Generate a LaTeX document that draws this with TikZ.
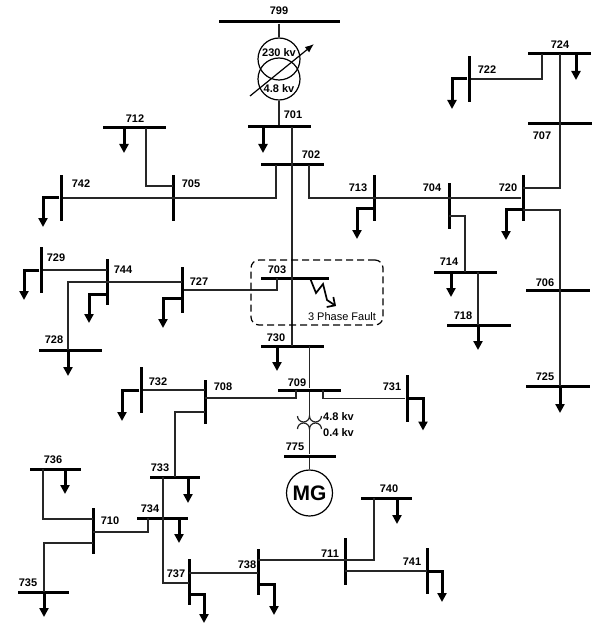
\documentclass[tikz,border=0pt]{standalone}
\usepackage{fontspec}
\setmainfont{Liberation Sans}
\usetikzlibrary{arrows.meta}

\tikzset{
  hbus/.style={fill=black, inner sep=0pt, minimum height=3pt, minimum width=#1},
  vbus/.style={fill=black, inner sep=0pt, minimum width=3pt, minimum height=#1},
  busno/.style={font=\bfseries\fontsize{11}{13}\selectfont, inner sep=0pt},
  wire/.style={line width=1.2pt, black!85},
  load/.style={line width=3pt, -{Triangle[width=9pt,length=9pt]}},
}

\begin{document}
\begin{tikzpicture}[x=1pt,y=-1pt]
\useasboundingbox (0,0) rectangle (597,628);

\node[hbus=121pt] (b799) at (279,22) {}; \node[hbus=63pt] (b701) at (279,127) {}; \node[hbus=63pt] (b702) at (292.5,165) {};
\node[hbus=63pt] (b712) at (134.5,128) {}; \node[hbus=63pt] (b724) at (559.5,54) {}; \node[hbus=64pt] (b707) at (560,124) {};
\node[hbus=64pt] (b706) at (558,290) {}; \node[hbus=64pt] (b725) at (558,386) {}; \node[hbus=63pt] (b714) at (465.5,272) {};
\node[hbus=64pt] (b718) at (479,325) {}; \node[hbus=68pt] (b703) at (295,278) {}; \node[hbus=63pt] (b730) at (292.5,346) {};
\node[hbus=63pt] (b709) at (309.5,390) {}; \node[hbus=52pt] (b775) at (309.5,456) {}; \node[hbus=63pt] (b728) at (70.5,350) {};
\node[hbus=50pt] (b733) at (175,477) {}; \node[hbus=51pt] (b734) at (162.5,518) {}; \node[hbus=51pt] (b736) at (55.5,469) {};
\node[hbus=51pt] (b735) at (43.5,592) {}; \node[hbus=51pt] (b740) at (386.5,498) {};

\node[vbus=46pt] (b713) at (374,198) {}; \node[vbus=46pt] (b704) at (449,206) {}; \node[vbus=46pt] (b720) at (523,198) {};
\node[vbus=46pt] (b722) at (469,79) {}; \node[vbus=46pt] (b705) at (173,198) {}; \node[vbus=46pt] (b742) at (61,198) {};
\node[vbus=46pt] (b729) at (41,270) {}; \node[vbus=46pt] (b744) at (107,282) {}; \node[vbus=46pt] (b727) at (182,290) {};
\node[vbus=47pt] (b731) at (407,398.5) {}; \node[vbus=46pt] (b732) at (141,390) {}; \node[vbus=44pt] (b708) at (205,402) {};
\node[vbus=46pt] (b710) at (93,531) {}; \node[vbus=46pt] (b737) at (189,582) {}; \node[vbus=46pt] (b738) at (258,572) {};
\node[vbus=47pt] (b711) at (345,561.5) {}; \node[vbus=46pt] (b741) at (427,571) {};

\node[busno] (n799) at (279,11) {799}; \node[busno] (n701) at (293,115) {701}; \node[busno] (n702) at (311,155) {702};
\node[busno] (n712) at (135,119) {712}; \node[busno] (n742) at (81,184) {742}; \node[busno] (n705) at (191,184) {705};
\node[busno] (n713) at (358,188) {713}; \node[busno] (n704) at (432,188) {704}; \node[busno] (n720) at (508,188) {720};
\node[busno] (n722) at (487,70) {722}; \node[busno] (n724) at (560,45) {724}; \node[busno] (n707) at (542,136) {707};
\node[busno] (n706) at (545,283) {706}; \node[busno] (n725) at (545,377) {725}; \node[busno] (n714) at (449,262) {714};
\node[busno] (n718) at (463,316) {718}; \node[busno] (n729) at (56,258) {729}; \node[busno] (n744) at (123,270) {744};
\node[busno] (n727) at (199,282) {727}; \node[busno] (n703) at (277,270) {703}; \node[busno] (n728) at (54,340) {728};
\node[busno] (n730) at (276,338) {730}; \node[busno] (n709) at (297,383) {709}; \node[busno] (n731) at (392,387) {731};
\node[busno] (n732) at (158,382) {732}; \node[busno] (n708) at (223,387) {708}; \node[busno] (n775) at (295,447) {775};
\node[busno] (n733) at (160,468) {733}; \node[busno] (n734) at (150,509) {734}; \node[busno] (n736) at (53,460) {736};
\node[busno] (n710) at (110,521) {710}; \node[busno] (n735) at (28,583) {735}; \node[busno] (n737) at (176,574) {737};
\node[busno] (n738) at (247,565) {738}; \node[busno] (n711) at (330,554) {711}; \node[busno] (n740) at (389,489) {740};
\node[busno] (n741) at (412,562) {741};

\node[draw, line width=1.2pt, circle, minimum size=42pt, inner sep=0pt] (tu) at (279,59) {};
\node[draw, line width=1.2pt, circle, minimum size=42pt, inner sep=0pt] (tl) at (279,79) {};
\node[busno] (thv) at (279,53) {230 kv}; \node[busno] (tlv) at (279,89) {4.8 kv};
\draw[line width=1.2pt, -{Latex[length=9pt,width=7pt]}] (250,96) -- (314,44);
\draw[wire] (b799) -- (tu); \draw[wire] (tl) -- (b701);

\draw[wire] (292,0 |- b701) -- (292,0 |- b730);
\draw[wire] (276,0 |- b702) |- (b742);
\draw[wire] (309,0 |- b702) |- (b720);
\draw[wire] (146,0 |- b712) |- (b705 |- 0,186);
\draw[wire] (b704 |- 0,216) -| (465,0 |- b714);
\draw[wire] (478,0 |- b714) -- (478,0 |- b718);
\draw[wire] (560,0 |- b724) |- (b720 |- 0,188);
\draw[wire] (542,0 |- b724) |- (b722);
\draw[wire] (b720 |- 0,210) -| (560,0 |- b725);
\draw[wire] (b729) -- (b744 |- b729);
\draw[wire] (b727 |- 0,282) -| (68,0 |- b728);
\draw[wire] (b727) -| (277,0 |- b703);
\draw[wire] (309.5,0 |- b730) -- (b709);
\draw[wire] (296,0 |- b709) |- (b708 |- 0,398);
\draw[wire] (323,0 |- b709) |- (b731);
\draw[wire] (b732) -- (b708 |- b732);
\draw[wire] (b708 |- 0,412) -| (175,0 |- b733);
\draw[wire] (163,0 |- b733) |- (b737 |- 0,583);
\draw[wire] (148,0 |- b734) |- (b710 |- 0,532);
\draw[wire] (43,0 |- b736) |- (b710 |- 0,519);
\draw[wire] (b710 |- 0,543) -| (44,0 |- b735);
\draw[wire] (b737 |- 0,573) -- (b738 |- 0,573);
\draw[wire] (b738 |- 0,560) -| (374,0 |- b740);
\draw[wire] (b711 |- 0,571) -- (b741 |- 0,571);

\coordinate (c1) at (309.5,416); \coordinate (c2) at (309.5,429);
\draw[wire] (b709) -- (c1); \draw[wire] (c2) -- (b775);
\draw[wire] (297.5,416) arc (180:360:6pt) arc (180:360:6pt);
\draw[wire] (297.5,429) arc (180:0:6pt) arc (180:0:6pt);
\node[busno, anchor=west] (kv1) at (323,417) {4.8 kv}; \node[busno, anchor=west] (kv2) at (323,433) {0.4 kv};
\node[draw, line width=1.2pt, circle, minimum size=46pt, inner sep=0pt, font=\bfseries\fontsize{21}{24}\selectfont] (mg) at (309.5,493) {MG};
\draw[wire] (b775) -- (mg);

\draw[load] (263,0 |- b701) -- ++(0,26);
\draw[load] (124,0 |- b712) -- ++(0,25);
\draw[load] (b742) -| ++(-18,29);
\draw[load] (b713 |- 0,209) -| ++(-17,30);
\draw[load] (b720 |- 0,210) -| ++(-17,30);
\draw[load] (451,0 |- b714) -- ++(0,25);
\draw[load] (478,0 |- b718) -- ++(0,25);
\draw[load] (576,0 |- b724) -- ++(0,26);
\draw[load] (b722) -| ++(-17,30);
\draw[load] (560,0 |- b725) -- ++(0,27);
\draw[load] (b729) -| ++(-17,30);
\draw[load] (b744 |- 0,294) -| ++(-18,29);
\draw[load] (b727 |- 0,298) -| ++(-19,30);
\draw[load] (68,0 |- b728) -- ++(0,26);
\draw[load] (277,0 |- b730) -- ++(0,25);
\draw[load] (b731) -| ++(16,32);
\draw[load] (b732) -| ++(-19,31);
\draw[load] (188,0 |- b733) -- ++(0,26);
\draw[load] (179,0 |- b734) -- ++(0,25);
\draw[load] (65,0 |- b736) -- ++(0,25);
\draw[load] (44,0 |- b735) -- ++(0,25);
\draw[load] (b737 |- 0,594) -| ++(15,29);
\draw[load] (b738 |- 0,584) -| ++(16,31);
\draw[load] (397,0 |- b740) -- ++(0,26);
\draw[load] (b741) -| ++(15,31);

\node[draw, line width=1.2pt, dash pattern=on 7pt off 4pt, rounded corners=8pt, minimum width=132pt, minimum height=65pt, inner sep=0pt] (fz) at (317,292.5) {};
\draw[line width=1.7pt, line join=miter, -{Straight Barb[length=6pt,width=12pt,line width=1.7pt]}] (310,0 |- b703) -- (316,293) -- (323,284) -- (327,300) -- (336,306);
\node[font=\fontsize{11}{13}\selectfont, inner sep=0pt] (ftxt) at (342,317) {3 Phase Fault};

\end{tikzpicture}
\end{document}
